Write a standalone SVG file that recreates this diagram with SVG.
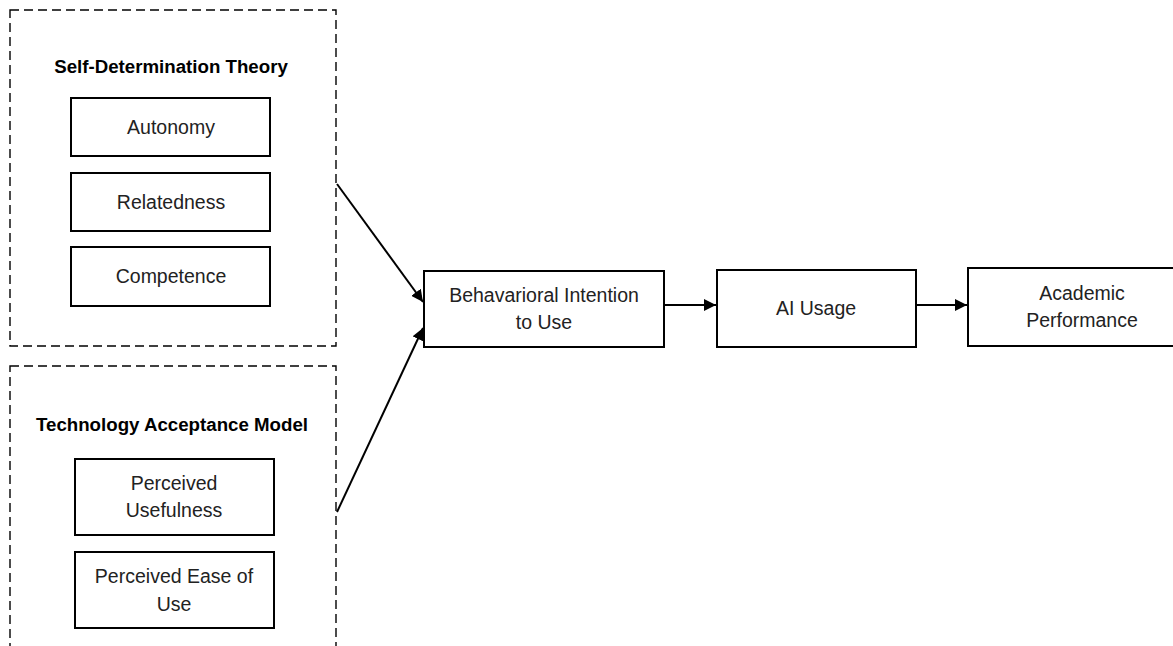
<svg xmlns="http://www.w3.org/2000/svg" width="1173" height="646" viewBox="0 0 1173 646">
  <style>
    .frame { fill: none; stroke: #000; stroke-width: 1.4; stroke-dasharray: 9 5; }
    .box { fill: #fff; stroke: #000; stroke-width: 2; }
    .lbl { font-family: "Liberation Sans", Arial, sans-serif; font-size: 19.5px; fill: #222; text-anchor: middle; }
    .ttl { font-family: "Liberation Sans", Arial, sans-serif; font-size: 18.7px; font-weight: bold; fill: #000; text-anchor: middle; }
    .edge { fill: none; stroke: #000; stroke-width: 2; marker-end: url(#arrow); }
  </style>
  <defs>
    <marker id="arrow" viewBox="0 0 10 10" refX="10" refY="5" markerWidth="6" markerHeight="6" markerUnits="strokeWidth" orient="auto">
      <path d="M0,0 L10,5 L0,10 Z" fill="#000"/>
    </marker>
  </defs>
  <rect width="1173" height="646" fill="#fff"/>

  <!-- Self-Determination Theory group -->
  <g id="sdt">
    <rect class="frame" x="10" y="10" width="326" height="336"/>
    <text class="ttl" x="171" y="73">Self-Determination Theory</text>
  </g>
  <g id="autonomy">
    <rect class="box" x="71" y="98" width="199" height="58"/>
    <text class="lbl" x="171" y="134">Autonomy</text>
  </g>
  <g id="relatedness">
    <rect class="box" x="71" y="173" width="199" height="58"/>
    <text class="lbl" x="171" y="209">Relatedness</text>
  </g>
  <g id="competence">
    <rect class="box" x="71" y="247" width="199" height="59"/>
    <text class="lbl" x="171" y="283">Competence</text>
  </g>

  <!-- Technology Acceptance Model group -->
  <g id="tam">
    <rect class="frame" x="10" y="366" width="326" height="300"/>
    <text class="ttl" x="172" y="431">Technology Acceptance Model</text>
  </g>
  <g id="usefulness">
    <rect class="box" x="75" y="459" width="199" height="76"/>
    <text class="lbl" x="174" y="490">Perceived</text>
    <text class="lbl" x="174" y="517">Usefulness</text>
  </g>
  <g id="ease">
    <rect class="box" x="75" y="552" width="199" height="76"/>
    <text class="lbl" x="174" y="583">Perceived Ease of</text>
    <text class="lbl" x="174" y="611">Use</text>
  </g>

  <!-- Outcome chain -->
  <g id="intention">
    <rect class="box" x="424" y="271" width="240" height="76"/>
    <text class="lbl" x="544" y="302">Behavarioral Intention</text>
    <text class="lbl" x="544" y="329">to Use</text>
  </g>
  <g id="usage">
    <rect class="box" x="717" y="270" width="199" height="77"/>
    <text class="lbl" x="816" y="315">AI Usage</text>
  </g>
  <g id="performance">
    <rect class="box" x="968" y="268" width="228" height="78"/>
    <text class="lbl" x="1082" y="300">Academic</text>
    <text class="lbl" x="1082" y="327">Performance</text>
  </g>

  <!-- Connectors -->
  <g id="connectors">
    <line class="edge" x1="337" y1="184" x2="423" y2="302"/>
    <line class="edge" x1="337" y1="512" x2="423" y2="328"/>
    <line class="edge" x1="664" y1="305" x2="716" y2="305"/>
    <line class="edge" x1="916" y1="305" x2="967" y2="305"/>
  </g>
</svg>
